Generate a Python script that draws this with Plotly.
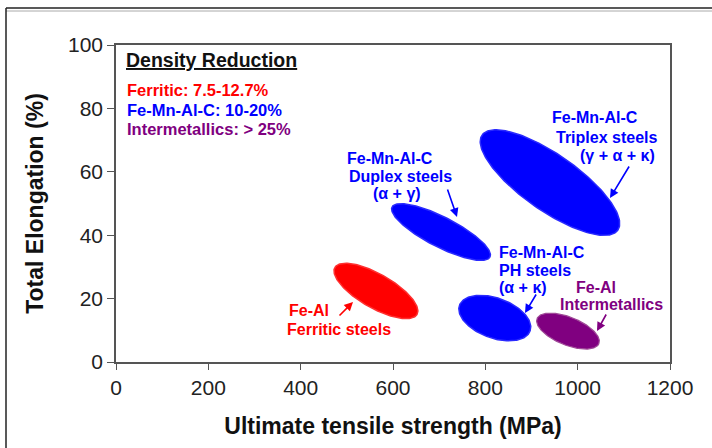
import numpy as np
import plotly.graph_objects as go

# ---------------- data ----------------
groups = ["Fe-Al Ferritic steels", "Fe-Mn-Al-C Duplex steels", "Fe-Mn-Al-C Triplex steels",
          "Fe-Mn-Al-C PH steels", "Fe-Al Intermetallics"]
# ends of each property band (upper-left end and lower-right end)
uts_start = [474, 598, 793, 744, 912]
elong_start = [29.8, 48.9, 71.6, 17.9, 13.7]
uts_end = [652, 810, 1087, 897, 1046]
elong_end = [15.0, 33.1, 41.6, 9.8, 5.8]

x_ticks = [0, 200, 400, 600, 800, 1000, 1200]
y_ticks = [0, 20, 40, 60, 80, 100]

density_title = "Density Reduction"
density_items = ["Ferritic: 7.5-12.7%", "Fe-Mn-Al-C: 10-20%", "Intermetallics: > 25%"]

# ---------------- layout constants ----------------
W, H = 712, 448
ML, MR, MT, MB = 116, 42, 45, 86
PW, PH = W - ML - MR, H - MT - MB
XR, YR = [0, 1200], [0, 100]
kx = PW / (XR[1] - XR[0])
ky = PH / (YR[1] - YR[0])

RED, BLUE, PURPLE = "#ff0000", "#0000ff", "#800080"
fill_colors = [RED, BLUE, BLUE, BLUE, PURPLE]
edge_colors = ["#ff3030", "#2a2aff", "#2a2aff", "#2a2aff", "#a04a98"]
edge_widths = [1.5, 1.5, 1.5, 1.5, 1.2]
half_width_px = [17, 15, 28, 20, 14]
FONT = "Arial, Liberation Sans, sans-serif"

fig = go.Figure()

t = np.linspace(0, 2 * np.pi, 200)
for i in range(len(groups)):
    x1, y1 = uts_start[i] * kx, elong_start[i] * ky
    x2, y2 = uts_end[i] * kx, elong_end[i] * ky
    cx, cy = (x1 + x2) / 2, (y1 + y2) / 2
    dx, dy = x2 - x1, y2 - y1
    L = np.hypot(dx, dy)
    ux, uy = dx / L, dy / L
    vx, vy = -uy, ux
    a, b = L / 2, half_width_px[i]
    px = cx + a * np.cos(t) * ux + b * np.sin(t) * vx
    py = cy + a * np.cos(t) * uy + b * np.sin(t) * vy
    fig.add_trace(go.Scatter(x=px / kx, y=py / ky, mode="lines", fill="toself",
                             fillcolor=fill_colors[i],
                             line=dict(color=edge_colors[i], width=edge_widths[i]),
                             name=groups[i], hoverinfo="name", showlegend=False))

def px2x(p):
    return (p - ML) / kx

def px2y(p):
    return (MT + PH - p) / ky

ann = []
def label(text, xp, yp, color, anchor="center", size=16):
    ann.append(dict(text="<b>%s</b>" % text, x=px2x(xp), y=px2y(yp), xref="x", yref="y",
                    xanchor=anchor, yanchor="middle", showarrow=False,
                    font=dict(family=FONT, size=size, color=color)))

def arrow(tail, head, color):
    ann.append(dict(text="", x=px2x(head[0]), y=px2y(head[1]), ax=px2x(tail[0]), ay=px2y(tail[1]),
                    xref="x", yref="y", axref="x", ayref="y", showarrow=True,
                    arrowhead=2, arrowsize=1.1, arrowwidth=1.6, arrowcolor=color, standoff=0))

# Duplex
label("Fe-Mn-Al-C", 390, 158, BLUE)
label("Duplex steels", 400, 176, BLUE)
label("(α + γ)", 397, 193, BLUE)
arrow((447, 188), (457, 217), BLUE)
# Triplex
label("Fe-Mn-Al-C", 595, 117, BLUE)
label("Triplex steels", 606, 137, BLUE)
label("(γ + α + κ)", 617, 155, BLUE)
arrow((630, 165), (610, 198), BLUE)
# PH
label("Fe-Mn-Al-C", 497, 252, BLUE, "left")
label("PH steels", 497, 270, BLUE, "left")
label("(α + κ)", 497, 287, BLUE, "left")
arrow((537, 293), (525, 313), BLUE)
# Intermetallics
label("Fe-Al", 596, 287, PURPLE)
label("Intermetallics", 611, 304, PURPLE)
arrow((607, 313), (597, 331), PURPLE)
# Ferritic
label("Fe-Al", 287, 310, RED, "left")
label("Ferritic steels", 285, 329, RED, "left")
arrow((338, 317), (353, 302), RED)

# density reduction box text
ann.append(dict(text="<b><u>%s</u></b>" % density_title, x=px2x(124), y=px2y(60), xref="x", yref="y",
                xanchor="left", yanchor="middle", showarrow=False,
                font=dict(family=FONT, size=19.5, color="#111111")))
for txt, col, yp in zip(density_items, [RED, BLUE, PURPLE], [90, 110, 129]):
    ann.append(dict(text="<b>%s</b>" % txt, x=px2x(125), y=px2y(yp), xref="x", yref="y",
                    xanchor="left", yanchor="middle", showarrow=False,
                    font=dict(family=FONT, size=16.5, color=col)))

# outer frame lines
def pxp(p):
    return (p - ML) / PW

def pyp(p):
    return (MT + PH - p) / PH

shapes = [
    dict(type="line", xref="paper", yref="paper", x0=pxp(6), x1=pxp(720), y0=pyp(8), y1=pyp(8),
         line=dict(color="#222222", width=1.5)),
    dict(type="line", xref="paper", yref="paper", x0=pxp(6), x1=pxp(720), y0=pyp(11), y1=pyp(11),
         line=dict(color="#aaaaaa", width=1)),
    dict(type="line", xref="paper", yref="paper", x0=pxp(6), x1=pxp(6), y0=pyp(8), y1=pyp(460),
         line=dict(color="#222222", width=1.5)),
]

fig.update_layout(
    width=W, height=H, margin=dict(l=ML, r=MR, t=MT, b=MB),
    paper_bgcolor="white", plot_bgcolor="white",
    annotations=ann, shapes=shapes, showlegend=False,
    xaxis=dict(range=XR, tickvals=x_ticks, ticks="outside", ticklen=6, tickcolor="#555555",
               showline=True, linecolor="#555555", linewidth=1.5, mirror=True, showgrid=False,
               zeroline=False, tickfont=dict(family=FONT, size=21, color="#222222"),
               title=dict(text="<b>Ultimate tensile strength (MPa)</b>", standoff=20,
                          font=dict(family=FONT, size=23, color="#111111"))),
    yaxis=dict(range=YR, tickvals=y_ticks, ticks="outside", ticklen=7, tickcolor="#555555",
               showline=True, linecolor="#555555", linewidth=1.5, mirror=True, showgrid=False,
               zeroline=False, tickfont=dict(family=FONT, size=21, color="#222222"),
               title=dict(text="<b>Total Elongation (%)</b>", standoff=18,
                          font=dict(family=FONT, size=23, color="#111111"))),
)

fig.write_html("out.html")
